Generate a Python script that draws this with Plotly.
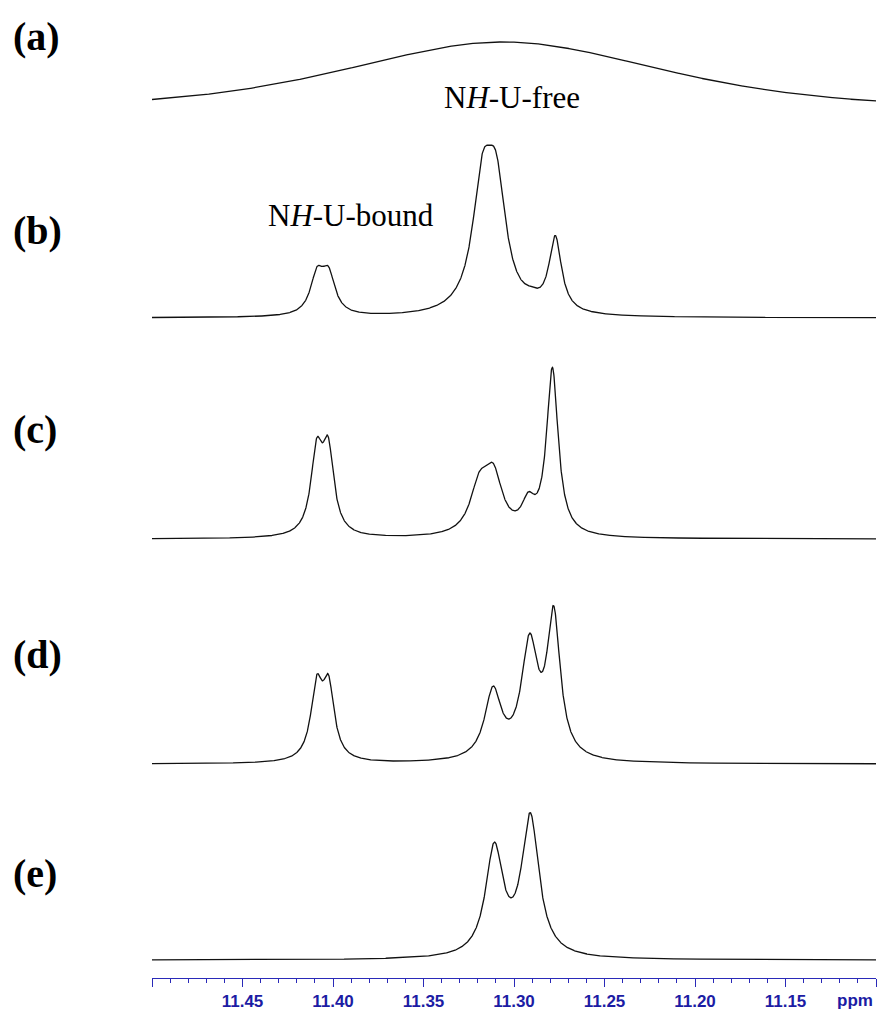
import numpy as np
import plotly.graph_objects as go

# ---------------- data ----------------
# chemical-shift axis (ppm)
PPM_START, PPM_END = 11.50, 11.10
TICK_VALUES = [11.50, 11.45, 11.40, 11.35, 11.30, 11.25, 11.20, 11.15, 11.10]
TICK_TEXT = ["", "11.45", "11.40", "11.35", "11.30", "11.25", "11.20", "11.15", ""]

# spectrum (a): one very broad signal (pseudo-Voigt)
A_PPM = [11.306]
A_HEIGHT = [68.0]
A_FWHM = [0.207]

# spectrum (b)
B_PPM = [11.4088, 11.4025, 11.3175, 11.3098, 11.2905, 11.2772]
B_HEIGHT = [37.8, 37.8, 114.6, 114.6, 6.0, 74.0]
B_FWHM = [0.00885, 0.00885, 0.01327, 0.01327, 0.01106, 0.0083]

# spectrum (c)
C_PPM = [11.4090, 11.4027, 11.3192, 11.3114, 11.2921, 11.2788]
C_HEIGHT = [78.5, 80.5, 44.0, 55.0, 27.0, 166.0]
C_FWHM = [0.00774, 0.00774, 0.01217, 0.01217, 0.00885, 0.00774]

# spectrum (d)
D_PPM = [11.4090, 11.4025, 11.3116, 11.2914, 11.2781]
D_HEIGHT = [70.3, 70.3, 67.5, 112.0, 140.0]
D_FWHM = [0.00774, 0.00774, 0.01106, 0.01106, 0.00885]

# spectrum (e)
E_PPM = [11.3109, 11.2910]
E_HEIGHT = [107.0, 139.0]
E_FWHM = [0.01162, 0.01162]

PANEL_LABELS = ["(a)", "(b)", "(c)", "(d)", "(e)"]

# ---------------- layout constants ----------------
W, H = 877, 1012
ML, MR, MT, MB = 152, 1, 0, 34
PW, PH = W - ML - MR, H - MT - MB
OFFSETS = {"a": 868, "b": 660, "c": 439, "d": 214, "e": 18}
BLUE_LINE = "#2a2ab8"
BLUE_TEXT = "#1c1ca4"

x = np.linspace(PPM_START, PPM_END, 3001)


def lorentz(xv, x0, h, fwhm):
    return h / (1.0 + ((xv - x0) / (fwhm / 2.0)) ** 2)


def gauss(xv, x0, h, fwhm):
    s = fwhm / 2.3548
    return h * np.exp(-0.5 * ((xv - x0) / s) ** 2)


def spectrum(ppms, heights, fwhms, gfrac=0.0):
    y = np.zeros_like(x)
    for p, h, w in zip(ppms, heights, fwhms):
        y += (1 - gfrac) * lorentz(x, p, h, w) + gfrac * gauss(x, p, h, w)
    return y


spectra = {
    "a": spectrum(A_PPM, A_HEIGHT, A_FWHM, gfrac=0.5),
    "b": spectrum(B_PPM, B_HEIGHT, B_FWHM),
    "c": spectrum(C_PPM, C_HEIGHT, C_FWHM),
    "d": spectrum(D_PPM, D_HEIGHT, D_FWHM),
    "e": spectrum(E_PPM, E_HEIGHT, E_FWHM),
}

fig = go.Figure()
for key, y in spectra.items():
    fig.add_trace(go.Scatter(
        x=x, y=y + OFFSETS[key], mode="lines",
        line=dict(color="#111111", width=1.3),
        hoverinfo="skip", showlegend=False,
    ))


def px_x(px):
    return (px - ML) / PW


def px_y(py):
    return (H - MB - py) / PH


annotations = []
label_y = [36, 230, 429, 654, 873]
for lab, yy in zip(PANEL_LABELS, label_y):
    annotations.append(dict(
        text="<b>%s</b>" % lab, xref="paper", yref="paper",
        x=px_x(11), y=px_y(yy), xanchor="left", yanchor="middle",
        showarrow=False,
        font=dict(family="Liberation Serif, Times New Roman, serif", size=40, color="black"),
    ))

annotations.append(dict(
    text="N<i>H</i>-U-free", xref="paper", yref="paper",
    x=px_x(512), y=px_y(97), xanchor="center", yanchor="middle", showarrow=False,
    font=dict(family="Liberation Serif, Times New Roman, serif", size=31, color="black"),
))
annotations.append(dict(
    text="N<i>H</i>-U-bound", xref="paper", yref="paper",
    x=px_x(351), y=px_y(215), xanchor="center", yanchor="middle", showarrow=False,
    font=dict(family="Liberation Serif, Times New Roman, serif", size=31, color="black"),
))
annotations.append(dict(
    text="ppm", xref="paper", yref="paper",
    x=px_x(875), y=px_y(1000), xanchor="right", yanchor="middle", showarrow=False,
    font=dict(family="Liberation Sans, Arial, sans-serif", size=17, color=BLUE_TEXT, weight="bold"),
))

fig.update_layout(
    width=W, height=H,
    margin=dict(l=ML, r=MR, t=MT, b=MB, pad=0),
    paper_bgcolor="white", plot_bgcolor="white",
    showlegend=False,
    annotations=annotations,
    xaxis=dict(
        range=[PPM_START, PPM_END],
        showgrid=False, zeroline=False,
        showline=True, linecolor=BLUE_LINE, linewidth=1,
        ticks="outside", ticklen=8, tickwidth=1, tickcolor=BLUE_LINE,
        tickmode="array", tickvals=TICK_VALUES, ticktext=TICK_TEXT,
        tickfont=dict(family="Liberation Sans, Arial, sans-serif", size=17,
                      color=BLUE_TEXT, weight="bold"),
        minor=dict(tickmode="linear", tick0=PPM_END, dtick=0.01,
                   ticks="outside", ticklen=4, tickwidth=1, tickcolor=BLUE_LINE,
                   showgrid=False),
        fixedrange=True,
    ),
    yaxis=dict(range=[0, PH], visible=False, fixedrange=True),
)

fig.write_html("out.html")
